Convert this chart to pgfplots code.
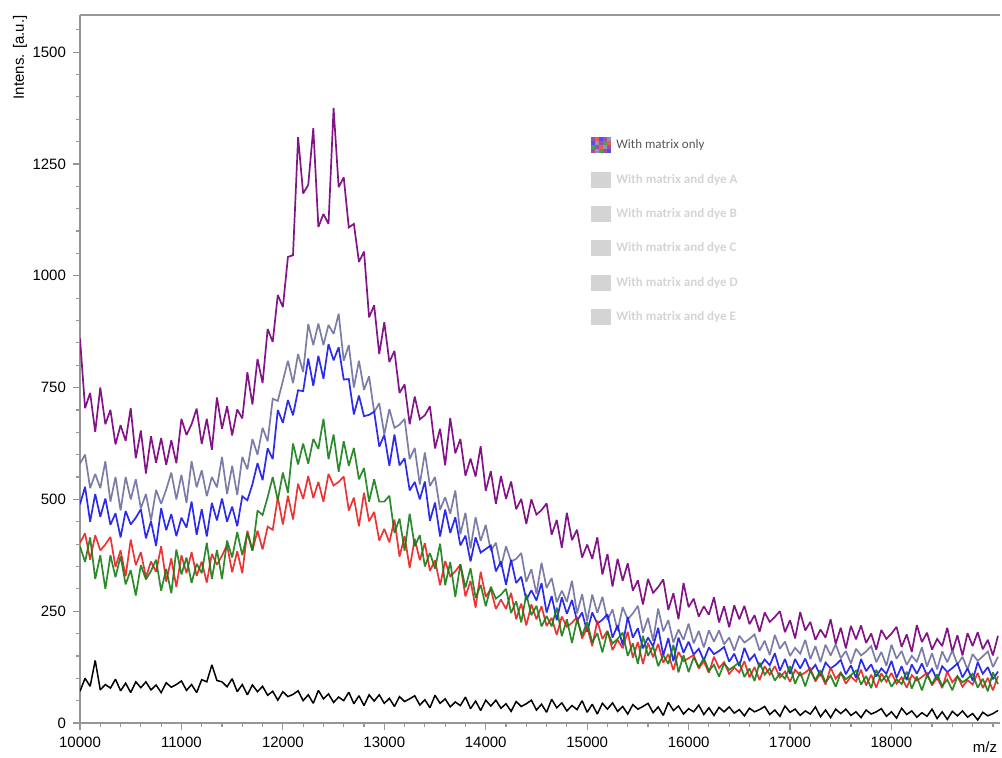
\documentclass[border=0pt]{standalone}
\usepackage{pgfplots}
\pgfplotsset{compat=1.18}
\usepackage{pgfplotstable}
\usepackage{fontspec}
\setmainfont{Liberation Sans}
\newfontfamily\legfont{Carlito}

\definecolor{cP}{RGB}{130,20,135}
\definecolor{cS}{RGB}{110,110,160}
\definecolor{cB}{RGB}{20,20,235}
\definecolor{cR}{RGB}{235,30,30}
\definecolor{cG}{RGB}{20,125,20}
\definecolor{axgray}{RGB}{150,150,150}
\definecolor{leggray}{RGB}{212,212,212}
\definecolor{legtext}{RGB}{85,85,85}

\pgfplotstableread{
mz P S B R G K
10000 860 580 489 403 395 71
10050 704 600 528 424 360 100
10100 738 525 450 365 415 82
10150 651 557 512 420 322 140
10200 750 525 461 386 375 74
10250 668 585 502 399 300 86
10300 700 495 443 416 375 78
10350 623 550 469 349 326 98
10400 666 475 415 386 373 72
10450 631 550 474 328 310 89
10500 704 500 444 410 342 68
10550 592 545 459 353 285 92
10600 654 480 478 382 353 79
10650 558 512 413 326 321 92
10700 641 453 451 361 340 74
10750 582 521 396 338 365 85
10800 637 490 480 395 296 68
10850 577 522 431 316 345 90
10900 632 560 467 368 290 80
10950 581 500 418 304 388 86
11000 680 555 459 375 332 94
11050 644 492 437 335 370 73
11100 668 585 495 382 313 86
11150 703 527 421 329 356 68
11200 624 565 478 361 335 97
11250 680 507 417 314 403 92
11300 611 550 492 378 322 130
11350 728 527 453 354 387 95
11400 658 595 502 374 322 92
11450 708 512 450 398 408 81
11500 643 575 484 337 370 99
11550 701 510 440 384 427 70
11600 681 595 507 335 375 86
11650 784 567 498 430 425 63
11700 712 635 534 386 385 85
11750 814 600 581 430 475 70
11800 760 660 543 388 465 82
11850 881 630 614 439 505 62
11900 852 725 590 432 550 71
11950 957 720 700 505 498 51
12000 930 765 671 444 560 70
12050 1042 810 722 508 515 59
12100 1046 760 688 455 625 64
12150 1310 825 744 535 578 72
12200 1184 785 742 501 625 50
12250 1203 892 815 552 580 63
12300 1330 845 754 503 635 44
12350 1109 893 821 539 613 73
12400 1138 845 770 495 680 54
12450 1116 890 847 557 590 65
12500 1375 870 811 531 645 46
12550 1198 915 840 539 562 58
12600 1220 810 768 551 630 50
12650 1108 845 769 475 575 69
12700 1116 750 690 504 615 43
12750 1031 810 732 440 545 61
12800 1054 745 686 515 570 39
12850 907 775 689 451 495 63
12900 934 695 696 472 545 49
12950 825 715 618 408 495 63
13000 896 645 644 434 495 44
13050 807 702 575 404 508 55
13100 832 660 645 455 425 37
13150 738 667 576 372 457 59
13200 757 680 592 418 385 48
13250 668 590 520 347 468 54
13300 730 615 539 412 395 61
13350 679 533 500 364 420 40
13400 688 605 540 402 350 52
13450 708 530 452 340 380 34
13500 614 550 493 364 345 62
13550 658 477 417 308 401 44
13600 576 505 477 362 308 54
13650 682 468 425 328 360 36
13700 603 520 460 339 282 47
13750 635 422 397 354 355 39
13800 553 470 419 283 303 58
13850 591 390 361 318 346 32
13900 551 460 415 258 280 49
13950 619 407 381 338 309 28
14000 519 443 389 282 261 51
14050 563 385 397 299 305 38
14100 490 403 339 255 278 51
14150 552 349 361 276 287 33
14200 501 395 309 255 300 43
14250 540 361 365 291 246 26
14300 478 367 313 232 272 48
14350 501 380 327 267 225 37
14400 445 316 275 218 288 43
14450 500 344 297 265 241 51
14500 466 289 274 232 262 29
14550 476 358 313 261 216 42
14600 491 302 247 217 239 24
14650 421 324 284 235 216 53
14700 454 270 230 197 258 34
14750 392 296 281 238 194 45
14800 470 271 244 215 232 27
14850 409 318 275 224 179 39
14900 432 245 228 237 231 30
14950 370 288 247 189 196 50
15000 399 228 204 214 226 24
15050 367 287 247 172 180 42
15100 415 246 222 229 201 20
15150 332 282 231 188 158 44
15200 378 230 243 206 204 31
15250 305 254 191 163 178 45
15300 367 206 219 186 188 26
15350 318 259 174 167 202 37
15400 357 232 237 204 150 20
15450 296 245 191 146 178 41
15500 319 262 212 181 132 31
15550 265 202 167 132 195 37
15600 322 235 191 179 150 44
15650 291 184 171 147 172 23
15700 304 256 213 177 127 36
15750 321 205 151 135 152 17
15800 253 230 190 154 132 46
15850 290 180 138 118 175 28
15900 232 209 191 159 113 38
15950 313 186 157 138 152 20
16000 259 222 182 145 114 32
16050 278 178 153 152 147 25
16100 238 206 166 122 125 40
16150 261 169 140 138 145 19
16200 242 207 169 112 117 34
16250 281 182 154 148 130 17
16300 225 207 161 123 104 35
16350 261 176 170 136 133 25
16400 214 191 137 110 119 36
16450 263 162 155 124 127 22
16500 232 195 127 113 136 30
16550 262 180 168 138 103 16
16600 221 188 140 102 122 33
16650 241 198 153 125 94 25
16700 204 162 125 96 135 30
16750 247 184 142 127 108 37
16800 226 152 129 108 122 19
16850 237 197 156 127 95 29
16900 250 166 117 102 111 15
16950 203 182 143 115 99 38
17000 230 150 110 92 127 24
17050 189 168 143 119 88 31
17100 248 155 122 106 114 17
17150 207 186 144 113 82 27
17200 226 143 116 122 117 20
17250 186 172 130 93 96 36
17300 209 136 105 111 118 14
17350 191 175 135 86 91 29
17400 232 151 122 124 106 12
17450 177 176 130 99 81 31
17500 213 145 141 113 112 21
17550 167 161 109 88 98 31
17600 217 133 129 104 107 17
17650 187 166 101 93 117 25
17700 218 151 143 119 86 12
17750 179 160 116 84 105 29
17800 200 172 131 108 78 20
17850 164 136 104 79 119 25
17900 208 159 122 111 93 32
17950 188 128 110 92 107 15
18000 200 175 139 112 81 25
18050 215 144 101 88 98 11
18100 170 161 127 102 87 33
18150 198 130 96 79 115 19
18200 159 150 131 107 77 27
18250 219 137 110 95 104 13
18300 181 169 133 103 73 23
18350 202 126 106 112 107 15
18400 164 156 121 84 87 31
18450 188 120 96 102 109 10
18500 172 160 127 78 83 25
18550 213 136 114 115 97 8
18600 159 162 123 91 73 26
18650 196 131 133 105 104 16
18700 151 148 102 81 91 27
18750 201 120 122 96 99 13
18800 172 154 95 86 110 21
18850 203 139 136 112 79 7
18900 165 149 110 78 99 24
18950 186 160 125 101 71 16
19000 151 125 98 73 113 21
19050 195 148 115 105 87 28
}\spectra

\begin{document}
\begin{tikzpicture}
\path[use as bounding box] (0,0) rectangle (501pt,378.5pt);
\begin{axis}[
  at={(40pt,17pt)}, anchor=south west,
  scale only axis, width=460pt, height=354pt,
  xmin=10000, xmax=19070, ymin=0, ymax=1583,
  axis x line*=bottom, axis y line*=left,
  axis line style={axgray, line width=0.6pt},
  tick style={axgray, line width=0.6pt},
  tick align=outside,
  major tick length=3.5pt, minor tick length=1.8pt,
  xtick={10000,11000,...,18000},
  ytick={0,250,...,1500},
  minor xtick={10200,10400,...,19000},
  minor ytick={50,100,...,1550},
  scaled ticks=false,
  /pgf/number format/assume math mode=true,
  /pgf/number format/set thousands separator={},
  tick label style={font=\fontsize{7.5}{8}\selectfont, black},
  clip=true,
  every axis plot/.append style={line width=0.85pt, line join=miter, miter limit=2},
]
\addplot[cP] table[x=mz,y=P] {\spectra};
\addplot[cS, opacity=0.9] table[x=mz,y=S] {\spectra};
\addplot[cB, opacity=0.9] table[x=mz,y=B] {\spectra};
\addplot[cR, opacity=0.9] table[x=mz,y=R] {\spectra};
\addplot[cG, opacity=0.9] table[x=mz,y=G] {\spectra};
\addplot[black, line width=0.75pt] table[x=mz,y=K] {\spectra};
\draw[axgray, line width=0.6pt] (rel axis cs:0,1) -- (rel axis cs:1,1);
\end{axis}
% axis titles
\node[rotate=90, anchor=east, inner sep=0pt, font=\fontsize{7.5}{8}\selectfont] at (10pt,371pt) {Intens. [a.u.]};
\node[anchor=center, inner sep=0pt, font=\fontsize{7.5}{8}\selectfont] at (492.5pt,5pt) {m/z};
% legend
\foreach \cx/\cy/\cc in {0/0/cP,1/0/cS,2/0/cG,3/0/cP,4/0/cB,0/1/cG,1/1/cP,2/1/cR,3/1/cS,4/1/cP,0/2/cB,1/2/cS,2/2/cP,3/2/cG,4/2/cR,0/3/cP,1/3/cR,2/3/cB,3/3/cP,4/3/cS}
  \fill[\cc!75] ({295.5pt+\cx*2pt},{302pt+\cy*2pt}) rectangle ++(2pt,2pt);
\node[anchor=west, inner sep=0pt, text=legtext, font=\legfont\fontsize{6.5}{7}\selectfont] at (308pt,306pt) {With matrix only};
\foreach \yy/\lab in {288.5/A,271.5/B,254.5/C,237/D,220/E}{
  \fill[leggray] (295.5pt,\yy pt-4pt) rectangle ++(10pt,8pt);
  \node[anchor=west, inner sep=0pt, text=leggray, font=\legfont\bfseries\fontsize{6.5}{7}\selectfont] at (308pt,\yy pt) {With matrix and dye \lab};
}
\end{tikzpicture}
\end{document}
